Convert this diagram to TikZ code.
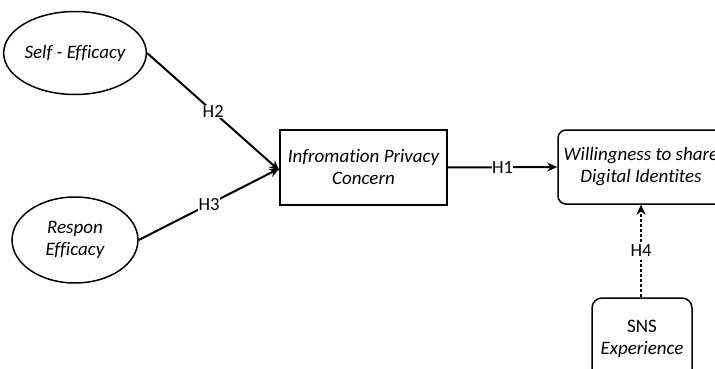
\documentclass[tikz,border=0pt]{standalone}
\usepackage{fontspec}
\setmainfont{Carlito}[Ligatures=NoCommon]
\usetikzlibrary{shapes.geometric,arrows.meta}
\begin{document}
\begin{tikzpicture}[x=1pt,y=-1pt,
  font=\fontsize{19}{22}\selectfont,
  construct/.style={draw,ellipse,line width=1.5pt,inner sep=0pt,align=center,font=\fontsize{19}{22}\selectfont\itshape},
  plainbox/.style={draw,rectangle,line width=1.5pt,inner sep=0pt,align=center,font=\fontsize{19}{22}\selectfont\itshape},
  softbox/.style={plainbox,rounded corners=8pt},
  path/.style={line width=2pt,-{Stealth[length=10pt,width=9pt]}},
  dotpath/.style={path,dash pattern=on 3pt off 2pt},
  hyp/.style={fill=white,inner sep=0.5pt,font=\fontsize{18.5}{21}\selectfont}
]
\useasboundingbox (0,0) rectangle (715,369);
\begin{scope}
\clip (0,0) rectangle (715,369);

\node[construct,minimum width=126,minimum height=83] (se) at (75,53) {Self - Efficacy};
\node[construct,minimum width=126,minimum height=86] (re) at (75,240) {Respon\\Efficacy};

\node[plainbox,minimum width=167,minimum height=75] (ipc) at (363.5,167.5) {Infromation Privacy\\Concern};
\node[softbox,minimum width=166,minimum height=74] (wsd) at (641,167) {Willingness to share\\Digital Identites};
\node[softbox,rounded corners=10pt,minimum width=100,minimum height=82] (sns) at (642,339) {\upshape SNS\\Experience};

\coordinate (ipcA) at ([yshift=-3]ipc.west);
\coordinate (ipcB) at ([yshift=-1]ipc.west);

\draw[path] (se.east) -- node[hyp] {H2} (ipcA);
\draw[path] (re.east) -- node[hyp] {H3} (ipcB);
\draw[path] (ipc.east) -- node[hyp] {H1} (wsd.west);
\draw[dotpath] (sns.north -| wsd.south) -- node[hyp,inner ysep=3pt] {H4} (wsd.south);
\end{scope}
\end{tikzpicture}
\end{document}
